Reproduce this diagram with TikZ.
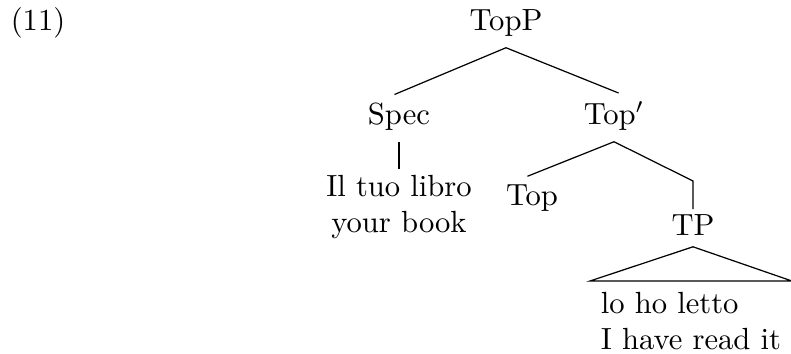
\documentclass[tikz,border=0pt]{standalone}
\begin{document}
\begin{tikzpicture}[x=0.3268pt, y=-0.3268pt,
    cat/.style={anchor=base},
    words/.style={align=center},
    branch/.style={draw, line width=0.4pt, shorten >=-1.6pt},
    roof/.style={draw, line width=0.4pt}
]
\useasboundingbox (0,0) rectangle (791,354);

\node[anchor=base west] (ex) at (0,31) {(11)};

\node[cat] (topp)   at (506,31)  {TopP};
\node[cat] (spec)   at (399,125) {Spec};
\node[cat] (topbar) at (614,125) {Top$'$};
\node[words, anchor=north] (dp) at (399,164) {Il tuo libro\\your book};
\node[cat] (top)    at (532,206) {Top};
\node[cat] (tp)     at (693,236) {TP};
\node[align=left, anchor=north west] (tpwords) at (590,281) {lo ho letto\\I have read it};
\coordinate (bend) at (tp.north |- 0,181);

\path[branch] (topp.south) -- (spec.north);
\path[branch] (topp.south) -- (topbar.north);
\path[branch] (spec.south) -- (dp.north);
\path[branch] (topbar.south) -- (top.north);
\path[branch] (topbar.south) -- (bend) -- (tp.north);
\path[roof] (tp.south) -- (tpwords.north west) -- (tpwords.north east) -- cycle;

\end{tikzpicture}
\end{document}
